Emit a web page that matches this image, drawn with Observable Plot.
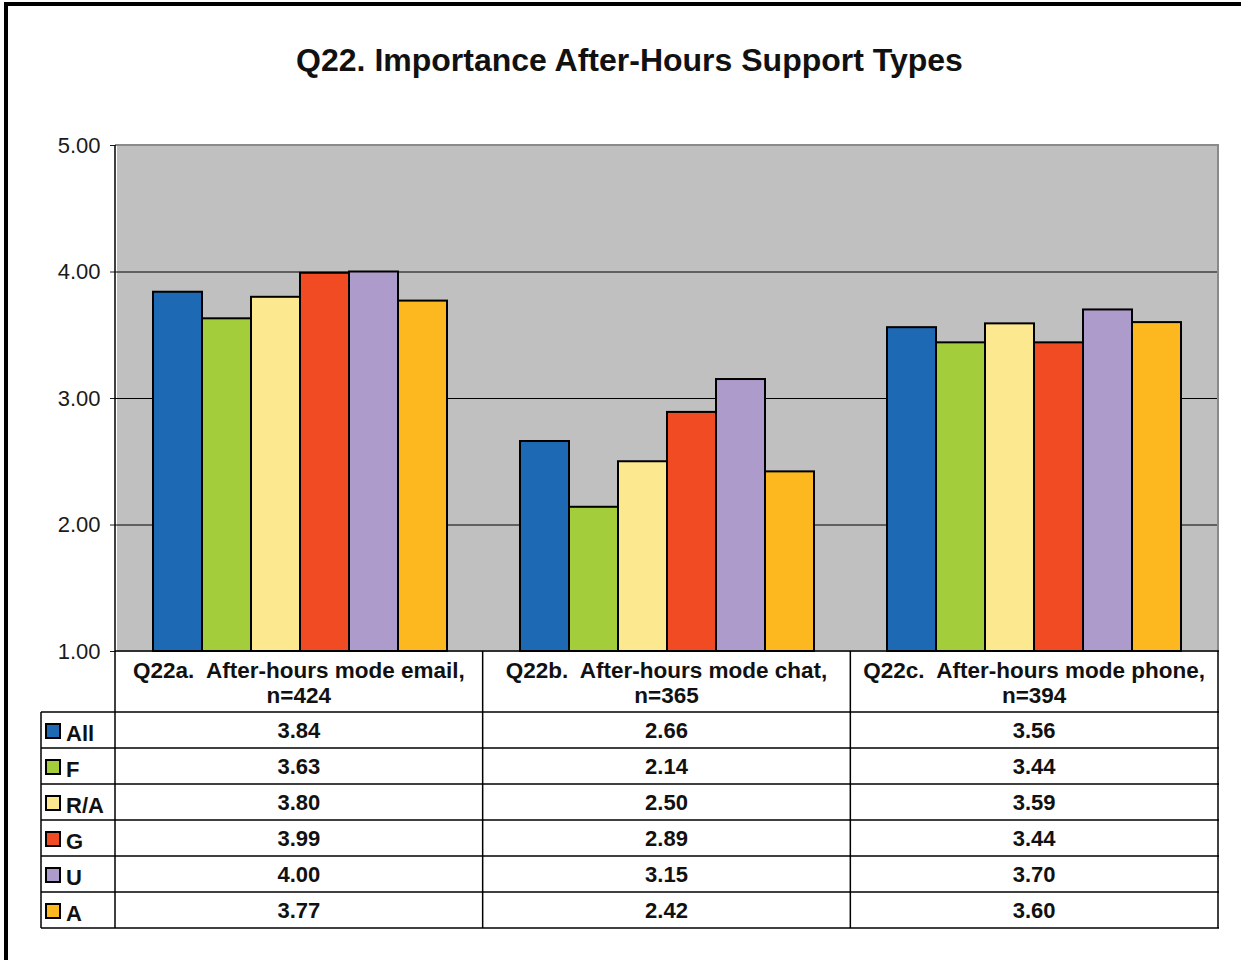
<!DOCTYPE html>
<html>
<head>
<meta charset="utf-8">
<script src="https://cdn.jsdelivr.net/npm/d3@7"></script>
<script src="https://cdn.jsdelivr.net/npm/@observablehq/plot@0.6"></script>
<style>
  body { margin: 0; background: #fff; font-family: "Liberation Sans", Arial, sans-serif; }
  #wrap { position: relative; width: 1241px; height: 960px; overflow: hidden; background: #fff; }
  #border { position: absolute; left: 4px; top: 2px; width: 1400px; height: 1100px; border-left: 4px solid #000; border-top: 4px solid #000; }
  #title { position: absolute; left: 0; top: 44px; width: 1259px; text-align: center; font-weight: bold; font-size: 32px; line-height: 32px; color: #111; }
  #chart { position: absolute; left: 0; top: 100px; }
</style>
</head>
<body>
<div id="wrap">
  <div id="border"></div>
  <div id="title">Q22. Importance After-Hours Support Types</div>
  <div id="chart"></div>
</div>
<script>
(function () {
const FONT = '"Liberation Sans", Arial, sans-serif';

const categories = ["Q22a.  After-hours mode email,", "Q22b.  After-hours mode chat,", "Q22c.  After-hours mode phone,"];
const sampleSizes = ["n=424", "n=365", "n=394"];
const series = ["All", "F", "R/A", "G", "U", "A"];
const colors = ["#1e69b3", "#a3cd3b", "#fce98f", "#f04b23", "#ad9bcb", "#fdb71f"];
const valuesAll = [3.84, 2.66, 3.56];
const valuesF   = [3.63, 2.14, 3.44];
const valuesRA  = [3.80, 2.50, 3.59];
const valuesG   = [3.99, 2.89, 3.44];
const valuesU   = [4.00, 3.15, 3.70];
const valuesA   = [3.77, 2.42, 3.60];
const yTicks = [1, 2, 3, 4, 5];
const gridValues = [2, 3, 4];

const seriesValues = [valuesAll, valuesF, valuesRA, valuesG, valuesU, valuesA];
const data = series.flatMap((s, i) => categories.map((c, j) => ({cat: c, series: s, value: seriesValues[i][j]})));

const plot = Plot.plot({
  width: 1241,
  height: 860,
  marginTop: 45,
  marginLeft: 115,
  marginRight: 23,
  marginBottom: 309,
  style: {fontFamily: FONT, fontSize: "22px", color: "#1a1a1a", background: "transparent", overflow: "visible"},
  fx: {domain: categories, padding: 0, axis: null, label: null},
  x: {domain: series, paddingInner: 0, paddingOuter: 0.74, axis: null},
  y: {domain: [1, 5], ticks: yTicks, tickFormat: d3.format(".2f"), tickSize: 6, tickPadding: 10, label: null},
  color: {domain: series, range: colors},
  marks: [
    Plot.frame({fill: "#c0c0c0", stroke: "none", shapeRendering: "crispEdges"}),
    Plot.ruleY(gridValues, {stroke: "#000", strokeWidth: 1}),
    Plot.barY(data, {fx: "cat", x: "series", y1: d => 1, y2: "value", fill: "series", stroke: "#000", strokeWidth: 2})
  ]
});

document.getElementById("chart").appendChild(plot);

const svg = d3.select(plot);
const fxS = plot.scale("fx");
const yS = plot.scale("y");
const fx = d3.scaleBand(fxS.domain, fxS.range)
  .paddingInner(fxS.paddingInner || 0)
  .paddingOuter(fxS.paddingOuter || 0)
  .align(fxS.align == null ? 0.5 : fxS.align);
const y = d3.scaleLinear(yS.domain, yS.range);

const left = fxS.range[0], right = fxS.range[1];
const plotTop = y(5), plotBottom = y(1);
const labelColW = 74;
const headerH = 61;
const rowH = 36;
const tableLeft = left - labelColW;
const rowTop = plotBottom + headerH;
const tableBottom = rowTop + rowH * series.length;

const g = svg.append("g").attr("fill", "none");
g.append("path").attr("d", `M${left},${plotTop}H${right}V${plotBottom}`).attr("stroke", "#8a8a8a").attr("stroke-width", 2);
g.append("line").attr("x1", left).attr("x2", left).attr("y1", plotTop).attr("y2", tableBottom).attr("stroke", "#000").attr("stroke-width", 1.5);
g.append("line").attr("x1", left).attr("x2", right + 1).attr("y1", plotBottom).attr("y2", plotBottom).attr("stroke", "#000").attr("stroke-width", 1.5);
for (let i = 0; i <= series.length; i++) {
  const yy = rowTop + i * rowH;
  g.append("line").attr("x1", tableLeft).attr("x2", right + 1).attr("y1", yy).attr("y2", yy).attr("stroke", "#000").attr("stroke-width", 1.5);
}
g.append("line").attr("x1", tableLeft).attr("x2", tableLeft).attr("y1", rowTop).attr("y2", tableBottom).attr("stroke", "#000").attr("stroke-width", 1.5);
categories.forEach((c) => {
  const xr = fx(c) + fx.bandwidth() + fx.step() * fx.paddingInner() / 2;
  g.append("line").attr("x1", xr).attr("x2", xr).attr("y1", plotBottom).attr("y2", tableBottom).attr("stroke", "#000").attr("stroke-width", 1.5);
});

const t = svg.append("g").attr("font-family", FONT).attr("font-weight", "bold").attr("fill", "#111");
categories.forEach((c, j) => {
  const cx = fx(c) + fx.bandwidth() / 2;
  t.append("text").attr("x", cx).attr("y", plotBottom + 19).attr("dy", "0.35em").attr("text-anchor", "middle")
    .attr("font-size", 22.5).style("white-space", "pre").text(c);
  t.append("text").attr("x", cx).attr("y", plotBottom + 44).attr("dy", "0.35em").attr("text-anchor", "middle")
    .attr("font-size", 22.5).text(sampleSizes[j]);
});
series.forEach((s, i) => {
  const cy = rowTop + i * rowH + rowH / 2;
  g.append("rect").attr("x", tableLeft + 5).attr("y", cy - 6).attr("width", 14).attr("height", 14)
    .attr("fill", colors[i]).attr("stroke", "#000").attr("stroke-width", 2);
  t.append("text").attr("x", tableLeft + 25).attr("y", cy + 3).attr("dy", "0.35em").attr("text-anchor", "start")
    .attr("font-size", 22).text(s);
  categories.forEach((c, j) => {
    const cx = fx(c) + fx.bandwidth() / 2;
    t.append("text").attr("x", cx).attr("y", cy).attr("dy", "0.35em").attr("text-anchor", "middle")
      .attr("font-size", 22).text(d3.format(".2f")(seriesValues[i][j]));
  });
});
})();
</script>
</body>
</html>
